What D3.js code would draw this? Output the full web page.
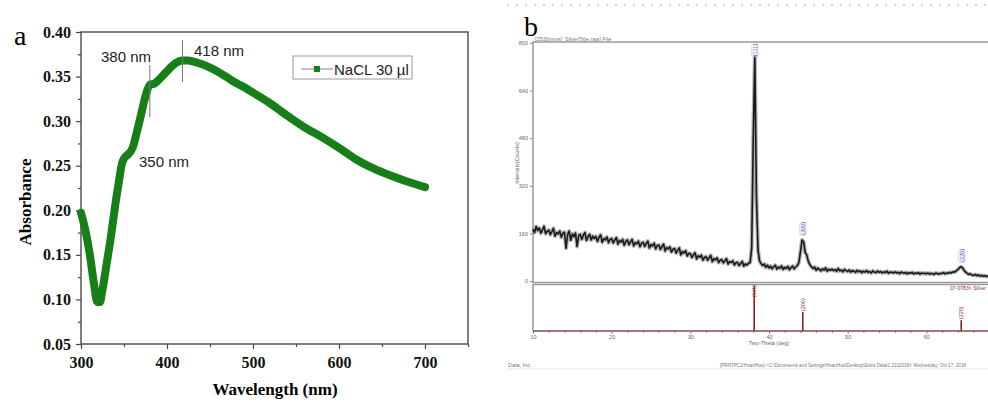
<!DOCTYPE html>
<html>
<head>
<meta charset="utf-8">
<script src="https://cdn.jsdelivr.net/npm/d3@7"></script>
<style>
  body { margin: 0; background: #fff; overflow: hidden; }
  svg { display: block; }
</style>
</head>
<body>
<script>
// ---- panel a : UV-vis spectrum ----
const wavelength = [300, 305, 310, 315, 319, 322, 325, 330, 335, 340, 345, 347, 350, 355, 360, 365, 370, 375, 380,
  385, 390, 395, 400, 405, 410, 418, 425, 430, 440, 450, 460, 470, 480, 490, 500,
  520, 540, 560, 580, 600, 620, 640, 660, 680, 700];
const absorbance = [0.197, 0.178, 0.152, 0.118, 0.097, 0.097, 0.111, 0.141, 0.172, 0.207, 0.238, 0.250, 0.258, 0.263, 0.270, 0.288, 0.308, 0.328, 0.341,
  0.342, 0.346, 0.351, 0.356, 0.361, 0.365, 0.368, 0.368, 0.367, 0.364, 0.360, 0.355, 0.349, 0.343, 0.338, 0.332,
  0.320, 0.306, 0.293, 0.282, 0.270, 0.257, 0.247, 0.239, 0.232, 0.226];
const xTicksA = [300, 400, 500, 600, 700];
const yTicksA = [0.05, 0.10, 0.15, 0.20, 0.25, 0.30, 0.35, 0.40];
const peakNm = [350, 380, 418];
const seriesName = 'NaCL 30 µl';

// ---- panel b : XRD pattern ----
const scanStart = 10;
const scanStep = 0.2;
const counts = [
  174,163,183,170,178,161,172,184,159,167, 171,156,166,177,151,163,158,168,147,160,
  164,110,156,168,137,158,149,161,116,152, 157,140,154,163,136,149,157,138,151,143,
  150,133,147,155,130,143,138,148,129,140,
  143,128,138,146,124,136,131,140,120,133, 138,122,131,140,118,129,125,134,115,127,
  130,116,126,134,111,122,118,127,108,119, 121,106,116,124,101,112,108,115,97,107,
  109,94,103,111,88,99,94,102,84,93,
  92,79,88,95,74,85,80,87,70,79, 82,70,78,86,65,75,71,78,62,70,
  72,61,68,75,57,65,62,68,54,61, 63,52,59,66,50,57,54,60,
  62,110,480,753,290,105,68,58,52,57,46,53,
  44,50,41,48,53,40,47,43,51,39, 46,42,49,38,45,50,41,47,52,62,
  98,138,132,96,88,66,55,48,42,47, 36,43,39,34,41,37,44,33,39,36,
  40,35,38,33,42,34,37,31,39,35,
  32,37,30,35,33,29,36,31,34,28, 33,30,35,29,32,27,34,30,28,33,
  29,32,27,31,28,33,26,30,29,27, 31,27,29,25,30,28,26,29,24,28,
  26,29,24,27,25,28,23,27,25,26,
  24,27,23,26,24,22,27,25,23,26, 25,28,24,27,26,29,27,31,30,34,
  38,44,48,45,36,30,26,22,24,20, 19,22,18,20,17,19,16,18,15,17,
  16
];
const hkl = ['(111)', '(200)', '(220)'];
const peakTheta = [38.2, 44.3, 64.5];
const peakCounts = [753, 139, 48];
const refTheta = [38.12, 44.30, 64.44];
const refIntensity = [100, 42, 24];
const xTicksB = [10, 20, 30, 40, 50, 60];
const yTicksB = [0, 160, 320, 480, 640, 800];

const W = 988, H = 411;
const svg = d3.select('body').append('svg')
  .attr('width', W).attr('height', H)
  .style('background', '#fff');

// ================= panel a =================
const xa = d3.scaleLinear().domain([300, 750]).range([81, 468]);
const ya = d3.scaleLinear().domain([0.05, 0.40]).range([344, 32]);
const serif = '"Liberation Serif", "Times New Roman", serif';
const sans = '"Liberation Sans", Arial, sans-serif';

const ga = svg.append('g');

// minor ticks
ga.append('g').attr('transform', 'translate(0,344)')
  .call(d3.axisBottom(xa).tickValues(d3.range(350, 751, 100)).tickSize(3).tickFormat(''))
  .call(g => g.select('.domain').remove());
ga.append('g').attr('transform', 'translate(81,0)')
  .call(d3.axisLeft(ya).tickValues(d3.range(0.075, 0.4, 0.05)).tickSize(3).tickFormat(''))
  .call(g => g.select('.domain').remove());

const axB = ga.append('g').attr('transform', 'translate(0,344)')
  .call(d3.axisBottom(xa).tickValues(xTicksA).tickSize(5).tickPadding(8).tickFormat(d3.format('d')));
const axL = ga.append('g').attr('transform', 'translate(81,0)')
  .call(d3.axisLeft(ya).tickValues(yTicksA).tickSize(5).tickPadding(5).tickFormat(d3.format('.2f')));
[axB, axL].forEach(a => {
  a.selectAll('text').attr('font-family', serif).attr('font-weight', 'bold').attr('font-size', 16).attr('fill', '#111');
  a.select('.domain').remove();
});
ga.selectAll('.tick line').attr('stroke', '#444').attr('stroke-width', 1.2);

// frame
ga.append('rect').attr('x', 81).attr('y', 32).attr('width', 387).attr('height', 312)
  .attr('fill', 'none').attr('stroke', '#555').attr('stroke-width', 1.5);

// spectrum
const specLine = d3.line().x(d => xa(d[0])).y(d => ya(d[1])).curve(d3.curveMonotoneX);
ga.append('path')
  .datum(wavelength.map((w, i) => [w, absorbance[i]]))
  .attr('d', specLine)
  .attr('fill', 'none').attr('stroke', '#177f17').attr('stroke-width', 8)
  .attr('stroke-linejoin', 'round').attr('stroke-linecap', 'round');

// peak annotations
const markSpan = { 380: [65, 117], 418: [40, 82] };
peakNm.filter(p => markSpan[p]).forEach(p => {
  ga.append('line').attr('x1', xa(p)).attr('x2', xa(p))
    .attr('y1', markSpan[p][0]).attr('y2', markSpan[p][1])
    .attr('stroke', '#777').attr('stroke-width', 1);
});
const labelPos = { 350: [139, 167], 380: [101, 62], 418: [194, 56] };
peakNm.forEach(p => {
  ga.append('text').attr('x', labelPos[p][0]).attr('y', labelPos[p][1])
    .attr('font-family', sans).attr('font-size', 15).attr('fill', '#222')
    .text(`${p} nm`);
});

// legend
ga.append('rect').attr('x', 293).attr('y', 56).attr('width', 119).attr('height', 23)
  .attr('fill', '#fff').attr('stroke', '#999').attr('stroke-width', 1);
ga.append('line').attr('x1', 301).attr('x2', 333).attr('y1', 69).attr('y2', 69)
  .attr('stroke', '#888').attr('stroke-width', 1);
ga.append('rect').attr('x', 314).attr('y', 66).attr('width', 6).attr('height', 6).attr('fill', '#177f17');
ga.append('text').attr('x', 334).attr('y', 75)
  .attr('font-family', sans).attr('font-size', 15).attr('fill', '#222').text(seriesName);

// titles
ga.append('text').attr('x', 275).attr('y', 395).attr('text-anchor', 'middle')
  .attr('font-family', serif).attr('font-weight', 'bold').attr('font-size', 17).text('Wavelength (nm)');
ga.append('text').attr('transform', 'translate(31,202) rotate(-90)').attr('text-anchor', 'middle')
  .attr('font-family', serif).attr('font-weight', 'bold').attr('font-size', 17).text('Absorbance');
ga.append('text').attr('x', 14).attr('y', 45)
  .attr('font-family', serif).attr('font-size', 28).text('a');

// ================= panel b =================
const gb = svg.append('g');
const xb = d3.scaleLinear().domain([10, 80]).range([533, 533 + 70 * 7.866]);
const yb = d3.scaleLinear().domain([0, 800]).range([281, 43]);
const yr = d3.scaleLinear().domain([0, 100]).range([331, 286]);
const tiny = 5.5;

// dotted header line
gb.append('line').attr('x1', 507).attr('x2', W).attr('y1', 5).attr('y2', 5)
  .attr('stroke', '#aaa').attr('stroke-width', 1).attr('stroke-dasharray', '2,7');

gb.append('text').attr('x', 524).attr('y', 36)
  .attr('font-family', serif).attr('font-size', 28).text('b');
gb.append('text').attr('x', 535).attr('y', 41)
  .attr('font-family', sans).attr('font-size', tiny).attr('fill', '#777')
  .text('[2530mins]_SilverTitle.raw] File');

// panel frames
gb.append('rect').attr('x', 533).attr('y', 42).attr('width', 600).attr('height', 240.5)
  .attr('fill', 'none').attr('stroke', '#9a9a9a').attr('stroke-width', 1.5);
gb.append('rect').attr('x', 533).attr('y', 284.5).attr('width', 600).attr('height', 46.5)
  .attr('fill', 'none').attr('stroke', '#9a9a9a').attr('stroke-width', 1.5);

// y axis
const ayb = gb.append('g').attr('transform', 'translate(533,0)')
  .call(d3.axisLeft(yb).tickValues(yTicksB).tickSize(3).tickPadding(2));
ayb.select('.domain').remove();
ayb.selectAll('line').attr('stroke', '#888');
ayb.selectAll('text').attr('font-family', sans).attr('font-size', tiny).attr('fill', '#666');

// x axis
const axbMinor = gb.append('g').attr('transform', 'translate(0,331)')
  .call(d3.axisBottom(xb).tickValues(d3.range(12, 80, 2).filter(v => v % 10)).tickSize(2).tickFormat(''));
axbMinor.select('.domain').remove();
axbMinor.selectAll('line').attr('stroke', '#888');
const axbMajor = gb.append('g').attr('transform', 'translate(0,331)')
  .call(d3.axisBottom(xb).tickValues(xTicksB).tickSize(3).tickPadding(1));
axbMajor.select('.domain').remove();
axbMajor.selectAll('line').attr('stroke', '#888');
axbMajor.selectAll('text').attr('font-family', sans).attr('font-size', tiny).attr('fill', '#666');

gb.append('text').attr('x', xb(40)).attr('y', 345).attr('text-anchor', 'middle')
  .attr('font-family', sans).attr('font-size', tiny).attr('fill', '#666').text('Two-Theta (deg)');
gb.append('text').attr('transform', 'translate(519,163) rotate(-90)').attr('text-anchor', 'middle')
  .attr('font-family', sans).attr('font-size', tiny).attr('fill', '#666').text('Intensity(Counts)');

// scan trace (a soft halo under the line gives the noisy band look)
const scan = counts.map((c, i) => [scanStart + i * scanStep, c]);
const scanLine = d3.line().x(d => xb(d[0])).y(d => yb(d[1]));
gb.append('path').datum(scan)
  .attr('d', scanLine)
  .attr('fill', 'none').attr('stroke', '#555').attr('stroke-opacity', 0.45).attr('stroke-width', 4)
  .attr('stroke-linejoin', 'round');
gb.append('path').datum(scan)
  .attr('d', scanLine)
  .attr('fill', 'none').attr('stroke', '#1a1a1a').attr('stroke-width', 1.6)
  .attr('stroke-linejoin', 'round');

// observed peak labels
hkl.forEach((h, i) => {
  const x = xb(peakTheta[i]);
  const yBot = Math.max(yb(peakCounts[i]) - 4, 57);
  const g = gb.append('g').attr('transform', `translate(${x},${yBot}) rotate(-90)`);
  g.append('rect').attr('x', 0).attr('y', -3).attr('width', 13).attr('height', 6).attr('rx', 1.5)
    .attr('fill', 'none').attr('stroke', '#b8b8e0').attr('stroke-width', 0.6);
  g.append('text').attr('x', 1).attr('y', 2).attr('font-family', sans).attr('font-size', tiny)
    .attr('fill', '#3c3cb4').text(h);
});

// reference sticks
refTheta.forEach((t, i) => {
  gb.append('line').attr('x1', xb(t)).attr('x2', xb(t)).attr('y1', yr(0)).attr('y2', yr(refIntensity[i]))
    .attr('stroke', '#8e2020').attr('stroke-width', 1.6);
  const yBot = Math.max(yr(refIntensity[i]) - 1, 297);
  gb.append('text').attr('transform', `translate(${xb(t) + 2},${yBot}) rotate(-90)`)
    .attr('font-family', sans).attr('font-size', tiny).attr('fill', '#8e3030').text(hkl[i]);
});
gb.append('line').attr('x1', 533).attr('x2', W).attr('y1', 331).attr('y2', 331)
  .attr('stroke', '#8e4040').attr('stroke-width', 1.2);
gb.append('text').attr('x', 950).attr('y', 290)
  .attr('font-family', sans).attr('font-size', tiny).attr('fill', '#8e3030')
  .attr('textLength', 36).attr('lengthAdjust', 'spacingAndGlyphs').text('07-0783> Silver');

// footer
gb.append('text').attr('x', 508).attr('y', 367)
  .attr('font-family', sans).attr('font-size', tiny).attr('fill', '#777').text('Data, Inc.');
gb.append('text').attr('x', 720).attr('y', 367)
  .attr('font-family', sans).attr('font-size', 4.6).attr('fill', '#777')
  .text('[PRNTPC1\\HoanHuo] <C:\\Documents and Settings\\HoanHuo\\Desktop\\Extra Data\\1 2102018> Wednesday, Oct 17, 2018');
gb.append('line').attr('x1', 507).attr('x2', W).attr('y1', 369).attr('y2', 369)
  .attr('stroke', '#e4e4e4').attr('stroke-width', 1);
</script>
</body>
</html>
